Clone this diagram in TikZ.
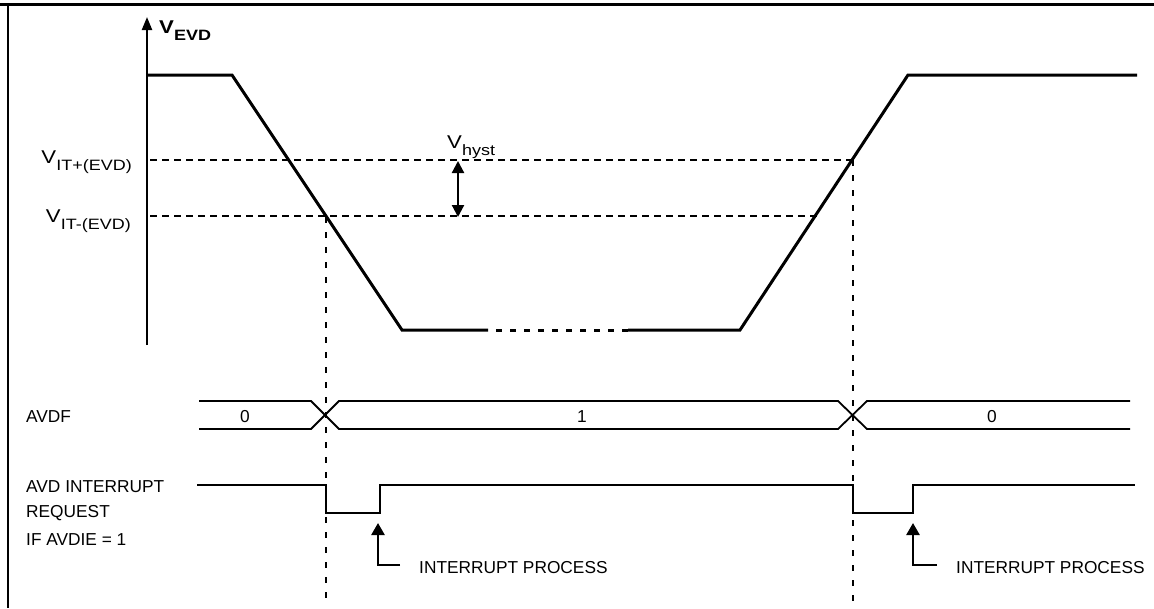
\documentclass[tikz,border=0pt]{standalone}
\usepackage{fontspec}
\setmainfont{Liberation Sans}
\usepackage{graphicx}
\usetikzlibrary{arrows.meta,positioning}

\newcommand{\vlab}[2]{\scalebox{1.2}[1]{\fontsize{18.5}{20}\selectfont #1\raisebox{-7pt}{\fontsize{15}{17}\selectfont #2}}}

\begin{document}
\begin{tikzpicture}[x=1pt,y=-1pt,font=\fontsize{17.3}{20}\selectfont,
	every node/.style={inner sep=0pt},
	sig/.style={line width=3pt},
	thr/.style={line width=2pt,dash pattern=on 7pt off 5pt},
	guide/.style={line width=2.5pt,dash pattern=on 6pt off 9pt},
	bus/.style={line width=1.8pt},
	req/.style={line width=2.5pt},
	procarrow/.style={line width=2.5pt,-{Triangle[width=13pt,length=12pt]}}]
		
		\useasboundingbox (0,0) rectangle (1154,608);
		\draw[line width=3pt] (0,4.5) -- (1154,4.5);
		\draw[line width=2.5pt] (8,3) -- (8,608);
		
		% voltage axis
		\draw[line width=2.2pt,-{Triangle[width=10pt,length=13pt]}] (147,345) -- (147,17);
		\node[anchor=base west] (vevd) at (159,33) {\vlab{\bfseries V}{EVD}};
		
		\draw[sig] (147,75) -- (232,75) -- (402,330) -- (488,330);
		\draw[sig,dash pattern=on 6pt off 8pt] (496,330) -- (628,330);
		\draw[sig] (628,330) -- (740,330) -- (908,75) -- (1137,75);
		
		\draw[thr] (150,160) -- (853,160);
		\draw[thr] (150,216) -- (818,216);
		\node[anchor=base east] (vitp) at (132,163) {\vlab{V}{IT+(EVD)}};
		\node[anchor=base east] (vitm) at (131,222) {\vlab{V}{IT-(EVD)}};
		
		\draw[line width=2.2pt,{Triangle[width=12pt,length=12pt]}-{Triangle[width=12pt,length=12pt]}] (458,161) -- (458,217);
		\node[anchor=base west] (vhyst) at (447,148) {\vlab{V}{hyst}};
		
		\draw[guide] (326,217) -- (326,600);
		\draw[guide] (853,160) -- (853,608);
		
		% AVDF flag
		\node[anchor=base west] (avdf) at (26,422) {AVDF};
		\draw[bus] (199,401) -- (311,401) -- (339,429) -- (838,429) -- (867,401) -- (1130,401);
		\draw[bus] (199,429) -- (311,429) -- (339,401) -- (838,401) -- (867,429) -- (1130,429);
		\node[anchor=base] (flag0a) at (245,422) {0};
		\node[anchor=base] (flag1) at (582,422) {1};
		\node[anchor=base] (flag0b) at (992,422) {0};
		
		% interrupt request
		\node[anchor=base west] (reqa) at (26,492) {AVD INTERRUPT};
		\node[anchor=base west] (reqb) at (26,517) {REQUEST};
		\node[anchor=base west] (reqc) at (26,545) {IF AVDIE = 1};
		\draw[req] (197,485) -- (326,485) -- (326,513) -- (380,513) -- (380,485) -- (853,485)
		-- (853,513) -- (913,513) -- (913,485) -- (1135,485);
		
		\draw[procarrow] (400,565) -- (378,565) -- (378,523);
		\node[anchor=base west] (proca) at (419,573) {INTERRUPT PROCESS};
		\draw[procarrow] (937,565) -- (913,565) -- (913,523);
		\node[anchor=base west] (procb) at (956,573) {INTERRUPT PROCESS};
		
	\end{tikzpicture}
\end{document}
